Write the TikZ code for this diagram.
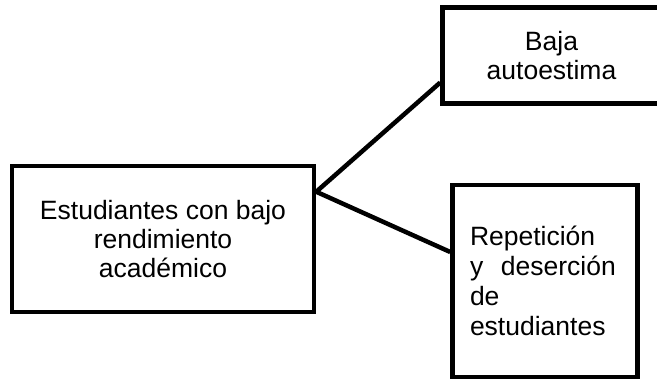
\documentclass[tikz,border=0pt]{standalone}
\usepackage{fontspec}
\setmainfont{Liberation Sans}
\usetikzlibrary{positioning}

\begin{document}
\begin{tikzpicture}[x=1pt,y=1pt,
    box/.style={draw,line width=4.5pt,inner sep=0pt,font=\fontsize{26.5}{29}\selectfont},
    link/.style={line width=4.5pt}]
       \useasboundingbox (0,0) rectangle (657,381);
       \node [box,minimum width=302pt,minimum height=146pt,align=center] (est) at (163,142)
             {Estudiantes con bajo\\rendimiento\\académico};
       \node [box,minimum width=218pt,minimum height=96pt,align=center,
              above right=58pt and 124pt of est] (baja) {Baja\\autoestima};
       \node [box,minimum width=185pt,minimum height=192pt,text width=150pt,align=left,
              font=\fontsize{26.5}{30}\selectfont,
              right=134pt of est,yshift=-42pt] (rep)
             {Repetición\\y\ \ deserción\\de\\estudiantes};
       \coordinate (hub) at ([yshift=-28pt]est.north east);
        \draw[link] (hub) -- ([yshift=-27pt]baja.west);
        \draw[link] (hub) -- ([yshift=29pt]rep.west);
    \end{tikzpicture}
\end{document}
